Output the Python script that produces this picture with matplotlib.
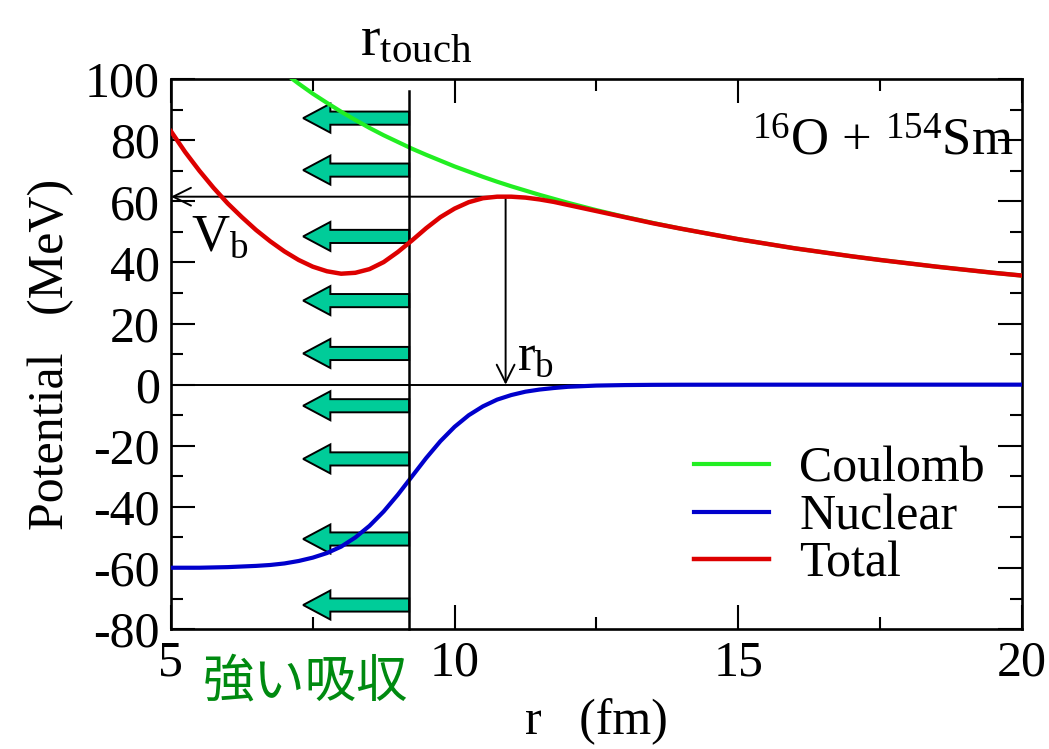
import numpy as np
import matplotlib
matplotlib.use('Agg')
from matplotlib import pyplot as plt

plt.rcParams['font.family'] = ['Liberation Serif', 'DejaVu Serif']
plt.rcParams['mathtext.fontset'] = 'custom'
plt.rcParams['mathtext.rm'] = 'Liberation Serif'
plt.rcParams['mathtext.it'] = 'Liberation Serif'
plt.rcParams['axes.unicode_minus'] = False

# values (r in fm, potentials in MeV)
r_total = [5.0, 5.25, 5.5, 5.75, 6.0, 6.25, 6.5, 6.75, 7.0, 7.25, 7.5, 7.75,
           8.0, 8.25, 8.5, 8.75, 9.0, 9.25, 9.5, 9.75, 10.0, 10.25, 10.5,
           10.75, 11.0, 11.25, 11.5, 11.75, 12.0, 12.5, 13.0, 13.5, 14.0,
           14.5, 15.0, 15.5, 16.0, 16.5, 17.0, 17.5, 18.0, 18.5, 19.0, 19.5, 20.0]
v_total = [82.9, 76.1, 70.0, 64.4, 59.3, 54.8, 50.6, 46.9, 43.6, 40.8, 38.6, 37.1,
           36.3, 36.6, 37.8, 40.1, 43.4, 47.2, 51.2, 54.8, 57.6, 59.7, 61.0,
           61.5, 61.5, 61.2, 60.6, 59.8, 58.8, 56.8, 54.8, 52.8, 51.0,
           49.3, 47.6, 46.1, 44.6, 43.3, 42.0, 40.8, 39.7, 38.6, 37.6, 36.6, 35.7]

r_coul = [7.0, 7.25, 7.5, 7.75, 8.0, 8.25, 8.5, 8.75, 9.0, 9.25, 9.5, 9.75,
          10.0, 10.25, 10.5, 10.75, 11.0, 11.25, 11.5, 11.75, 12.0, 12.5, 13.0,
          13.5, 14.0, 14.5, 15.0, 15.5, 16.0, 16.5, 17.0, 17.5, 18.0, 18.5,
          19.0, 19.5, 20.0]
v_coul = [102.0, 98.5, 95.2, 92.2, 89.3, 86.6, 84.0, 81.6, 79.4, 77.2, 75.2, 73.3,
          71.4, 69.7, 68.0, 66.4, 64.9, 63.5, 62.1, 60.8, 59.5, 57.1, 54.9,
          52.9, 51.0, 49.3, 47.6, 46.1, 44.6, 43.3, 42.0, 40.8, 39.7, 38.6,
          37.6, 36.6, 35.7]

r_nuc = [5.0, 5.5, 6.0, 6.25, 6.5, 6.75, 7.0, 7.25, 7.5, 7.75, 8.0, 8.25, 8.5,
         8.75, 9.0, 9.25, 9.5, 9.75, 10.0, 10.25, 10.5, 10.75, 11.0, 11.25,
         11.5, 11.75, 12.0, 12.5, 13.0, 13.5, 14.0, 15.0, 20.0]
v_nuc = [-59.9, -59.9, -59.7, -59.5, -59.3, -59.0, -58.5, -57.7, -56.6, -55.1,
         -53.0, -50.0, -46.2, -41.5, -36.0, -30.0, -24.0, -18.5, -13.8, -10.0,
         -7.1, -4.9, -3.4, -2.3, -1.6, -1.1, -0.7, -0.3, -0.14, -0.06, -0.03,
         -0.01, 0.0]

r_touch = 9.2
r_b = 10.9
V_b = 61.5
arrow_y = [87.2, 70.2, 48.5, 27.5, 10.2, -6.9, -24.3, -50.5, -72.1]
arrow_tip = 7.33

fs = 36

fig = plt.figure(figsize=(10.49, 7.49), dpi=100)
ax = fig.add_axes([0.163, 0.160, 0.811, 0.7345])

# strong absorption arrows
for y in arrow_y:
    ax.arrow(r_touch, y, arrow_tip - r_touch, 0, width=4.3, head_width=9.5,
             head_length=0.48, length_includes_head=True,
             facecolor='#00CC99', edgecolor='black', linewidth=1.4, zorder=2)

ax.plot(r_coul, v_coul, color='#22EE22', lw=3.0, label='Coulomb', zorder=3)
ax.plot(r_nuc, v_nuc, color='#0000CC', lw=3.0, label='Nuclear', zorder=3)
ax.plot(r_total, v_total, color='#DD0000', lw=3.2, label='Total', zorder=4)

# reference lines
ax.axhline(0, color='black', lw=1.4, zorder=1)
ax.plot([r_touch, r_touch], [-80, 96], color='black', lw=1.8, zorder=3, clip_on=False)
ax.annotate('', xy=(5.0, V_b), xytext=(r_b, V_b),
            arrowprops=dict(arrowstyle='->', color='black', lw=1.4,
                            mutation_scale=32, shrinkA=0, shrinkB=0), zorder=3)
ax.annotate('', xy=(r_b, 0), xytext=(r_b, V_b),
            arrowprops=dict(arrowstyle='->', color='black', lw=1.4,
                            mutation_scale=32, shrinkA=0, shrinkB=0), zorder=3)

ax.set_xlim(5, 20)
ax.set_ylim(-80, 100)
ax.set_xticks([5, 10, 15, 20])
ax.set_xticks([7.5, 12.5, 17.5], minor=True)
ax.set_yticks(np.arange(-80, 101, 20))
ax.set_yticks(np.arange(-70, 100, 20), minor=True)
ax.tick_params(which='both', direction='in', top=True, right=True,
               width=1.5, labelsize=fs)
ax.tick_params(which='major', length=17, pad=8)
ax.tick_params(which='minor', length=8.5)
for s in ax.spines.values():
    s.set_linewidth(1.9)

ax.set_xlabel('r   (fm)', fontsize=fs, labelpad=8)
ax.set_ylabel('Potential   (MeV)', fontsize=fs, labelpad=8)

ax.text(0.99, 0.885, r'$^{16}$O + $^{154}$Sm', transform=ax.transAxes,
        fontsize=fs + 2, ha='right', va='center')
ax.text(5.35, 48, r'V$_\mathregular{b}$', fontsize=fs + 2, ha='left', va='center')
ax.text(11.1, 9, r'r$_\mathregular{b}$', fontsize=fs + 2, ha='left', va='center')
fig.text(0.397, 0.945, r'r$_\mathregular{touch}$', fontsize=fs + 6,
         ha='center', va='center')
fig.text(0.291, 0.090, '強い吸収', fontsize=37, color='#008A10',
         family=['Noto Sans CJK JP'], ha='center', va='center')

leg = ax.legend(loc='center', bbox_to_anchor=(0.786, 0.204), frameon=False,
                fontsize=fs, handlelength=1.5, labelspacing=0.02,
                handletextpad=0.6)

fig.savefig('out.png', dpi=100)
